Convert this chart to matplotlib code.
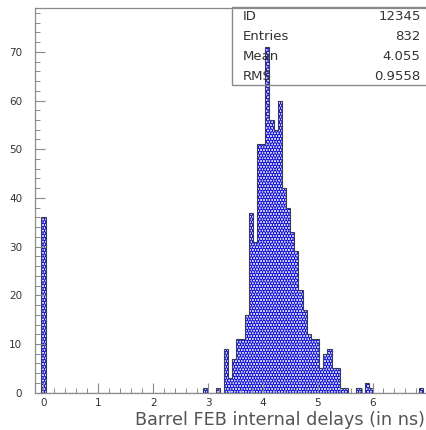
"""Barrel FEB internal delay histogram, drawn in the old PAW/ROOT style."""
import matplotlib

matplotlib.use("Agg")
import matplotlib.pyplot as plt  # noqa: E402
import numpy as np  # noqa: E402
from matplotlib.patches import Rectangle  # noqa: E402
from matplotlib.ticker import MultipleLocator  # noqa: E402

BIN_WIDTH = 0.0756  # ns, bins centred on multiples of the width
N_BINS = 96

# non-empty bins (bin number from zero) and their contents
filled_bins = [0, 39, 42,
               44, 45, 46, 47, 48, 49, 50, 51, 52, 53,
               54, 55, 56, 57, 58, 59, 60, 61, 62, 63,
               64, 65, 66, 67, 68, 69, 70, 71, 72, 73,
               76, 78, 79, 91]
bin_counts = [36, 1, 1,
              9, 3, 7, 11, 11, 16, 37, 31, 51, 51,
              71, 56, 54, 60, 42, 38, 33, 29, 21, 17,
              12, 11, 11, 5, 8, 9, 5, 5, 1, 1,
              1, 2, 1, 1]
x_ticks = [0, 1, 2, 3, 4, 5, 6]

stat_names = ["ID", "Entries", "Mean", "RMS"]
stat_values = ["12345", "832", "4.055", "0.9558"]

TEXT = "#333333"
AXIS = "#8a8a8a"
DOTS = "#1818d8"

plt.rcParams["hatch.linewidth"] = 2.0

counts = np.zeros(N_BINS)
counts[filled_bins] = bin_counts
edges = (np.arange(N_BINS + 1) - 0.5) * BIN_WIDTH

fig = plt.figure(figsize=(4.26, 4.30), dpi=100)
ax = fig.add_axes([0.0815, 0.0867, 0.9397, 0.8947])

# dotted fill, then the dark envelope on top
ax.stairs(counts, edges, fill=True, facecolor="#f6f6ff", edgecolor=DOTS,
          hatch="......", linewidth=0)
ax.stairs(counts, edges, color="#3a3a5a", linewidth=0.8)

ax.set_xlim(-0.16, 7.14)
ax.set_ylim(0, 79)
ax.set_xticks(x_ticks)
ax.xaxis.set_minor_locator(MultipleLocator(0.2))
ax.yaxis.set_major_locator(MultipleLocator(10))
ax.yaxis.set_minor_locator(MultipleLocator(2))
ax.tick_params(which="both", direction="in", color=AXIS, labelcolor=TEXT,
               labelsize=7.5, top=False, right=False)
ax.tick_params(which="major", length=7, width=0.8)
ax.tick_params(which="minor", length=3.5, width=0.7)
ax.tick_params(axis="y", pad=9)
ax.tick_params(axis="x", pad=4)
for spine in ax.spines.values():
    spine.set_color(AXIS)
    spine.set_linewidth(0.9)

ax.set_xlabel("Barrel FEB internal delays (in ns)", fontsize=12.7,
              color="#555555", ha="right")
ax.xaxis.set_label_coords(0.9735, -0.048)

# statistics box in the upper right corner
fig.patches.append(Rectangle((0.5453, 0.8023), 0.5, 0.1814, fill=False,
                             edgecolor=AXIS, linewidth=1.0,
                             transform=fig.transFigure))
for i, (name, value) in enumerate(zip(stat_names, stat_values)):
    y = 1 - (17 + 19.7 * i) / 430
    fig.text(0.571, y, name, fontsize=9.5, color=TEXT, va="center")
    fig.text(0.987, y, value, fontsize=9.5, color=TEXT, va="center",
             ha="right")

fig.savefig("out.png", dpi=100)
